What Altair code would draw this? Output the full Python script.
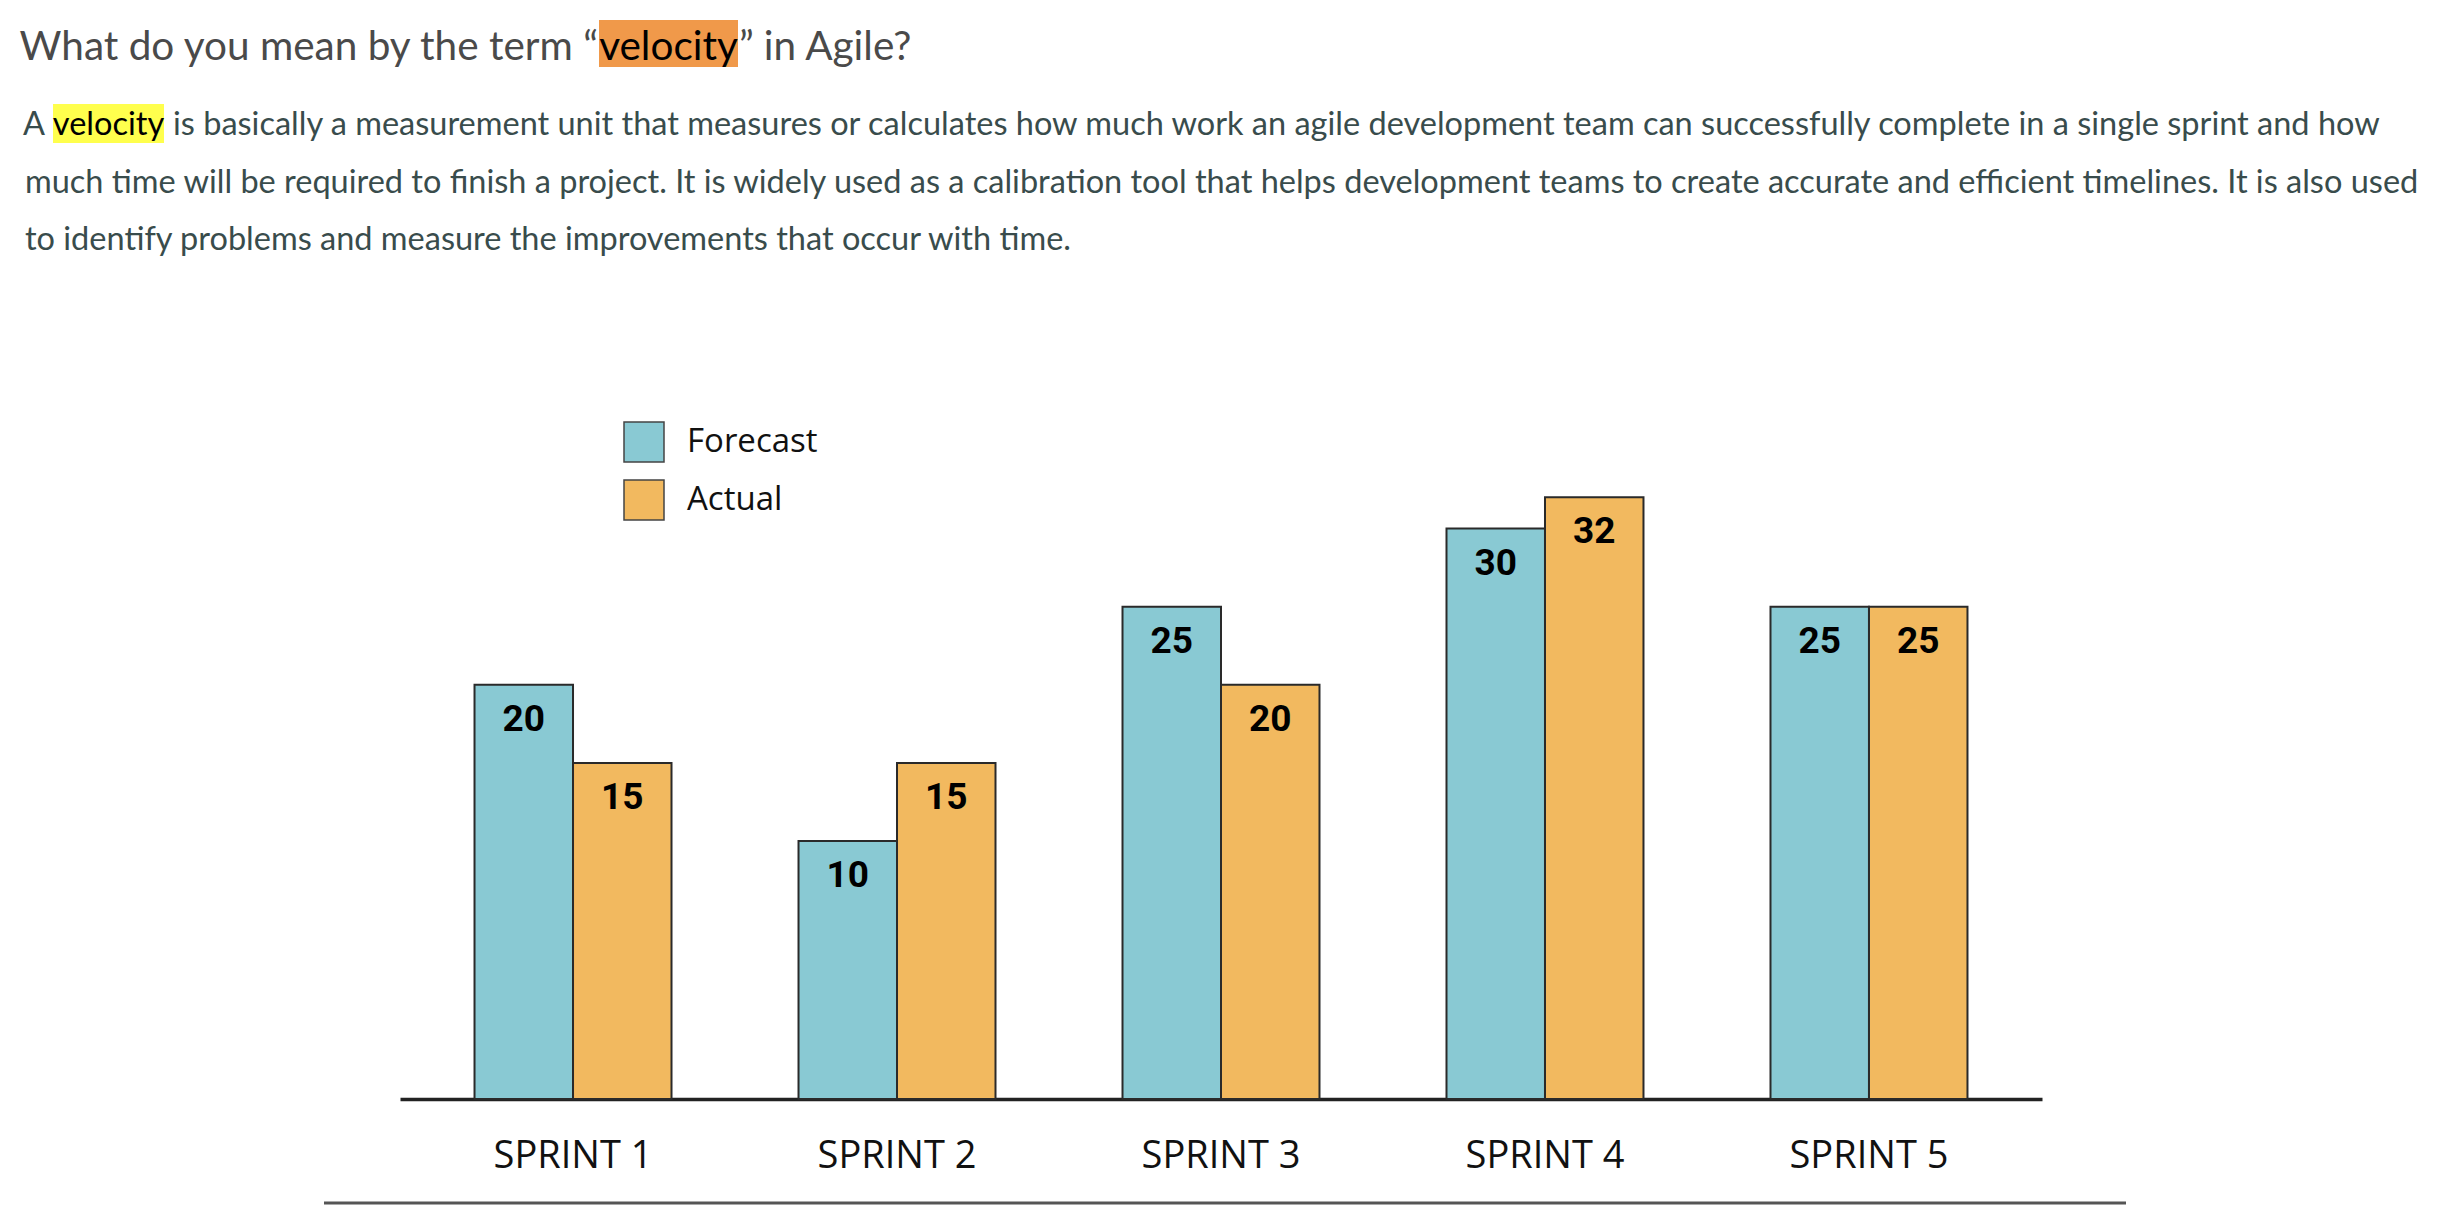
import altair as alt
import pandas as pd

# ---- data ----
sprints = ["SPRINT 1", "SPRINT 2", "SPRINT 3", "SPRINT 4", "SPRINT 5"]
forecast = [20, 10, 25, 30, 25]
actual = [15, 15, 20, 32, 25]
series_names = ["Forecast", "Actual"]
series_colors = ["#89C9D3", "#F2B95F"]

title_parts = ["What do you mean by the term \u201c", "velocity", "\u201d in Agile?"]
para_line1 = ["A", "velocity", "is basically a measurement unit that measures or calculates how much work an agile development team can successfully complete in a single sprint and how"]
para_line2 = "much time will be required to finish a project. It is widely used as a calibration tool that helps development teams to create accurate and efficient timelines. It is also used"
para_line3 = "to identify problems and measure the improvements that occur with time."

rows = []
for i, s in enumerate(sprints):
    rows.append({"sprint": s, "series": "Forecast", "value": forecast[i]})
    rows.append({"sprint": s, "series": "Actual", "value": actual[i]})
df = pd.DataFrame(rows)

W, H = 1642, 633
Y_MIN, Y_MAX = -6.5, 34

x_enc = alt.X("sprint:N", sort=sprints, title=None,
              scale=alt.Scale(paddingInner=0.392, paddingOuter=0.23),
              axis=alt.Axis(labelAngle=0, ticks=False, tickSize=0, labelPadding=68,
                            labelBaseline="alphabetic", labelFont="Open Sans",
                            labelFontSize=38, labelColor="#111111",
                            domainColor="#222222", domainWidth=3.5, grid=False))
xoff = alt.XOffset("series:N", sort=series_names, scale=alt.Scale(paddingInner=0, paddingOuter=0))
y_enc = alt.Y("value:Q", scale=alt.Scale(domain=[Y_MIN, Y_MAX], zero=False, nice=False), axis=None)

bars = alt.Chart(df).mark_bar(stroke="#2a2a2a", strokeWidth=2).encode(
    x=x_enc,
    xOffset=xoff,
    y=y_enc,
    y2=alt.datum(Y_MIN),
    color=alt.Color("series:N", sort=series_names,
                    scale=alt.Scale(domain=series_names, range=series_colors),
                    legend=alt.Legend(title=None, orient="none", legendX=223, legendY=-45,
                                      symbolType="square", symbolSize=1600,
                                      symbolStrokeColor="#444444", symbolStrokeWidth=1.5,
                                      symbolOpacity=1,
                                      labelFont="Open Sans", labelFontSize=33,
                                      labelColor="#111111", labelOffset=22,
                                      rowPadding=12)),
)

labels = alt.Chart(df).mark_text(baseline="alphabetic", dy=46, font="Roboto",
                                 fontWeight="bold", fontSize=37, color="#000000").encode(
    x=alt.X("sprint:N", sort=sprints),
    xOffset=alt.XOffset("series:N", sort=series_names),
    y=alt.Y("value:Q"),
    text=alt.Text("value:Q"),
)


def txt(s, x, y, align, size, color, weight="normal", font="Lato"):
    return alt.Chart(pd.DataFrame({"t": [s]})).mark_text(
        align=align, baseline="alphabetic", fontSize=size, font=font,
        color=color, fontWeight=weight).encode(
        x=alt.value(x), y=alt.value(y), text="t:N")


def box(x1, x2, y1, y2, color):
    return alt.Chart(pd.DataFrame({"k": [0]})).mark_rect(color=color).encode(
        x=alt.value(x1), x2=alt.value(x2), y=alt.value(y1), y2=alt.value(y2))


OX, OY = 400, 466  # plot origin on page
TITLE_C = "#4a4a4a"
PARA_C = "#394c4c"
TS = 40.5
PS = 32.5

ann = [
    box(599 - OX, 738 - OX, 20 - OY, 67 - OY, "#F0994A"),
    txt(title_parts[0], 598 - OX, 60 - OY, "right", TS, TITLE_C),
    txt(title_parts[1], 668.5 - OX, 60 - OY, "center", TS, "#000000"),
    txt(title_parts[2], 739 - OX, 60 - OY, "left", TS, TITLE_C),
    box(53 - OX, 164 - OX, 104 - OY, 143 - OY, "#FFFF4D"),
    txt(para_line1[0], 45 - OX, 135 - OY, "right", PS, PARA_C),
    txt(para_line1[1], 108.5 - OX, 135 - OY, "center", PS, "#000000"),
    txt(para_line1[2], 173 - OX, 135 - OY, "left", PS, PARA_C),
    txt(para_line2, 25 - OX, 193 - OY, "left", PS, PARA_C),
    txt(para_line3, 25 - OX, 250 - OY, "left", PS, PARA_C),
]

bottom_rule = alt.Chart(pd.DataFrame({"k": [0]})).mark_rule(color="#555555", strokeWidth=3).encode(
    x=alt.value(324 - OX), x2=alt.value(2126 - OX), y=alt.value(1203 - OY))

chart = alt.layer(*ann, bottom_rule, bars, labels).properties(
    width=W, height=H,
    padding={"left": OX, "top": OY, "right": 2442 - OX - W, "bottom": 1212 - OY - H},
    autosize=alt.AutoSizeParams(type="none"),
    background="white",
).configure_view(stroke=None)

chart.save("out.html", embed_options={"renderer": "svg", "actions": False})
